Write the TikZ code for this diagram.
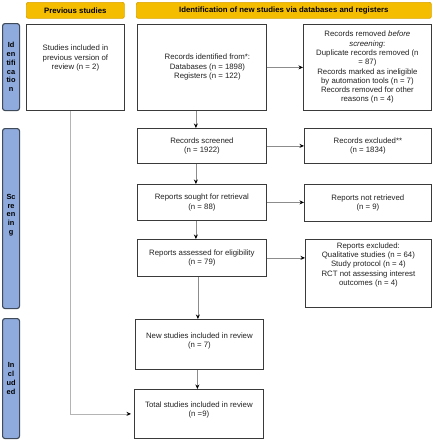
\documentclass[tikz,border=0pt]{standalone}
\usepackage{fontspec}
\setmainfont{Liberation Sans}
\usetikzlibrary{arrows.meta}
\definecolor{gold}{HTML}{F5BD00}
\definecolor{golddark}{HTML}{D9A300}
\definecolor{sideblue}{HTML}{8FAADC}
\definecolor{sidedark}{HTML}{3F4A5A}
\definecolor{boxline}{HTML}{3A3A3A}
\definecolor{arrgray}{HTML}{8C8C8C}
\definecolor{lightgray2}{HTML}{B4B4B4}
\definecolor{txt}{HTML}{222222}
\newcommand{\offbox}[3]{\hspace*{#1}\raisebox{0pt}[\height][\dimexpr\depth+#2\relax]{\begin{tabular}{@{}c@{}}#3\end{tabular}}}
\tikzset{
  box/.style={draw=boxline, line width=0.8pt, fill=white, align=center, inner sep=0pt,
    anchor=north west, text=txt, font=\fontsize{7.8}{9.3}\selectfont},
  hdr/.style={draw=golddark, line width=0.7pt, fill=gold, rounded corners=2pt, inner sep=0pt,
    anchor=north west, font=\fontsize{7.8}{9.3}\selectfont\bfseries, text=black},
  side/.style={draw=sidedark, line width=1.1pt, fill=sideblue, rounded corners=2.5pt, inner sep=0pt,
    anchor=north west, align=center, font=\fontsize{7.4}{8.8}\selectfont\bfseries, text=black},
  arr/.style={draw=arrgray, line width=0.8pt, -{Stealth[length=4.5pt,width=4pt,black]}},
  arrl/.style={draw=lightgray2, line width=0.8pt, -{Stealth[length=4.5pt,width=4pt,black]}}
}
\begin{document}
\begin{tikzpicture}[x=1pt,y=-1pt]
\useasboundingbox (0,0) rectangle (434,440);
% headers
\node[hdr, minimum width=98pt, minimum height=16pt] (hprev) at (26,2) {Previous studies};
\node[hdr, minimum width=295pt, minimum height=16pt] (hnew) at (136,2) {Identification of new studies via databases and registers};
% side bars
\node[side, minimum width=17pt, minimum height=87pt] (sid) at (2,23) {Id\\en\\tifi\\ca\\tio\\n};
\node[side, minimum width=17pt, minimum height=180pt] (sscr) at (2,128) {\offbox{0pt}{7pt}{Sc\\re\\en\\in\\g}};
\node[side, minimum width=17pt, minimum height=120pt] (sinc) at (2,318) {In\\cl\\ud\\ed};
% boxes
\node[box, minimum width=98pt, minimum height=86pt] (prev) at (26,24)
  {\offbox{0pt}{18pt}{Studies included in\\previous version of\\review (n = 2)}};
\node[box, minimum width=129pt, minimum height=86pt] (ident) at (137,24)
  {\offbox{11pt}{0pt}{Records identified from*:\\Databases (n = 1898)\\Registers (n = 122)}};
\node[box, minimum width=128pt, minimum height=86pt] (removed) at (303,24)
  {Records removed \textit{before}\\\textit{screening}:\\Duplicate records removed (n\\= 87)\\Records marked as ineligible\\by automation tools (n = 7)\\Records removed for other\\reasons (n = 4)};
\node[box, minimum width=129pt, minimum height=35pt] (screened) at (137,128)
  {Records screened\\(n = 1922)};
\node[box, minimum width=127pt, minimum height=35pt] (excl) at (304,128)
  {Records excluded**\\(n = 1834)};
\node[box, minimum width=129pt, minimum height=36pt] (sought) at (137,184)
  {Reports sought for retrieval\\(n = 88)};
\node[box, minimum width=127pt, minimum height=37pt] (notret) at (304,184)
  {Reports not retrieved\\(n = 9)};
\node[box, minimum width=129pt, minimum height=37pt] (assessed) at (137,239)
  {Reports assessed for eligibility\\(n = 79)};
\node[box, minimum width=126pt, minimum height=68pt] (repexcl) at (305,239)
  {\offbox{0pt}{17pt}{Reports excluded:\\Qualitative studies (n = 64)\\Study protocol (n = 4)\\RCT not assessing interest\\outcomes (n = 4)}};
\node[box, minimum width=128pt, minimum height=50pt] (new) at (135,319)
  {\offbox{0pt}{7pt}{New studies included in review\\(n = 7)}};
\node[box, minimum width=129pt, minimum height=49pt] (total) at (134,389)
  {\offbox{0pt}{8pt}{Total studies included in review\\(n =9)}};
% connectors
\draw[arr] (ident.east) -- (removed.west);
\draw[arr] ([xshift=-6pt]ident.south) -- ([xshift=-6pt]ident.south |- screened.north);
\draw[arr] (screened.east) -- (screened.east -| excl.west);
\draw[arr] ([xshift=-6pt]screened.south) -- ([xshift=-6pt]screened.south |- sought.north);
\draw[arr] (sought.east) -- (sought.east -| notret.west);
\draw[arr] ([xshift=-6pt]sought.south) -- ([xshift=-6pt]sought.south |- assessed.north);
\draw[arr] (assessed.east) -- (assessed.east -| repexcl.west);
\draw[arr] ([xshift=-4pt]assessed.south) -- ([xshift=-4pt]assessed.south |- new.north);
\draw[arr] ([xshift=-2pt]new.south) -- ([xshift=-2pt]new.south |- total.north);
\draw[arrl, shorten >=3pt] ([xshift=-5pt]prev.south) |- (total.west);
\end{tikzpicture}
\end{document}
